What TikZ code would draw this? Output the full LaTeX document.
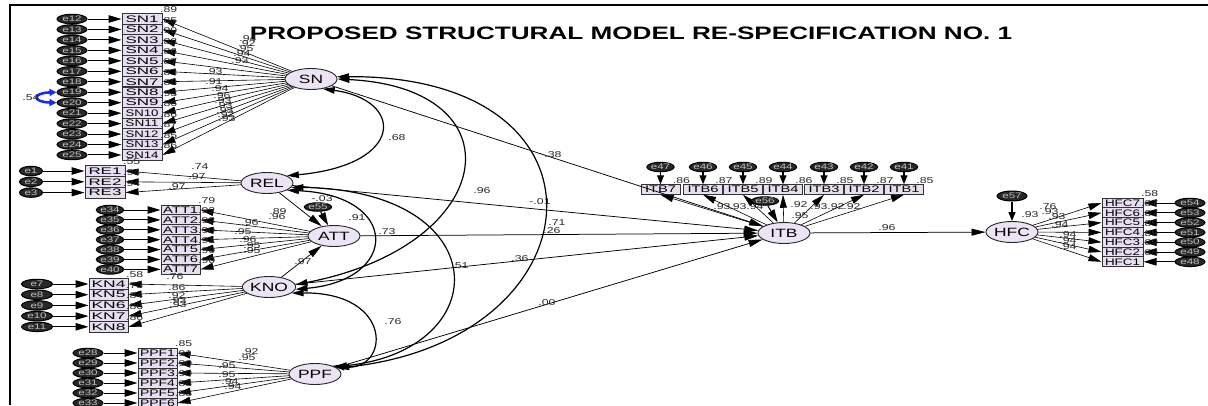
\documentclass[tikz,border=0pt]{standalone}
\usepackage{fontspec}
\usepackage{graphicx}
\setmainfont{Liberation Sans}[FakeStretch=1.45]
\usetikzlibrary{shapes.geometric, arrows.meta, positioning}

\definecolor{boxlilac}{RGB}{232,222,242}
\definecolor{latlilac}{RGB}{236,228,245}
\definecolor{errdark}{RGB}{40,40,40}
\definecolor{covblue}{RGB}{25,45,235}

% box labels are squeezed to the box width
\newcommand{\bx}[2][33pt]{\resizebox{#1}{6.6pt}{#2}}

\tikzset{
  ind/.style={rectangle, draw=black!80, line width=1pt, fill=boxlilac,
    minimum width=40pt, minimum height=10.4pt, inner sep=0pt},
  lat/.style={ellipse, draw=black!85, line width=0.9pt, fill=latlilac,
    minimum width=52pt, minimum height=21pt, inner sep=0pt,
    font=\fontsize{12}{13}\selectfont},
  err/.style={ellipse, draw=black, line width=1pt, fill=errdark,
    text=black!25, minimum width=28pt, minimum height=9.5pt, inner sep=0pt,
    font=\fontsize{8}{8}\selectfont},
  num/.style={font=\fontsize{8.5}{9}\selectfont, inner sep=0.4pt, text=black!85},
  errarr/.style={-{Triangle[length=13pt,width=7.5pt]}, line width=1pt},
  errarrv/.style={-{Triangle[length=9pt,width=7pt]}, line width=1.1pt},
  loadarr/.style={-{Triangle[length=13pt,width=7pt]}, line width=0.6pt},
  regarr/.style={-{Triangle[length=14pt,width=7pt]}, line width=0.75pt},
  cov/.style={{Triangle[length=12pt,width=6.5pt]}-{Triangle[length=12pt,width=6.5pt]}, line width=1.2pt},
}

\begin{document}
\begin{tikzpicture}[x=1pt, y=-1pt]
  \useasboundingbox (0,0) rectangle (1208,405);
  \draw[line width=2.4pt] (1208,5) -- (10,5) -- (10,405);

  \node[font=\bfseries\fontsize{18}{18}\selectfont] (title) at (631,33)
    {PROPOSED STRUCTURAL MODEL RE-SPECIFICATION NO. 1};

  % latent variables
  \node[lat] (SN)  at (311,79)  {SN};
  \node[lat] (REL) at (267,183) {REL};
  \node[lat] (ATT) at (334,236) {ATT};
  \node[lat] (KNO) at (269,287) {KNO};
  \node[lat] (PPF) at (315,374) {PPF};
  \node[lat] (ITB) at (784,233) {ITB};
  \node[lat] (HFC) at (1012,232) {HFC};

  % SN items
  \foreach \i/\er/\rs/\ld/\lx/\ly [count=\n from 0] in {
    1/12/.89/.94/248/39, 2/13/.85/.92/247/44, 3/14/.90/.95/245/49,
    4/15/.88/.94/242/54, 5/16/.86/.93/240/61, 6/17/.87/.93/214/72,
    7/18/.83/.91/214/82, 8/19/.88/.94/220/89, 9/20/.93/.96/222/96,
    10/21/.86/.93/223/101, 11/22/.86/.93/224/106, 12/23/.87/.93/225/111,
    13/24/.85/.92/226/115, 14/25/.86/.93/227/119}{
    \node[ind] (SN\i) at (142,{19+10.46*\n}) {\bx{SN\i}};
    \node[err, minimum width=30pt] (e\er) at (72,{19+10.46*\n}) {e\er};
    \node[num, anchor=south west] (rSN\i) at ([xshift=-3pt]SN\i.north east) {\rs};
    \node[num] (lSN\i) at (\lx,\ly) {\ld};
    \draw[errarr] (e\er) -- (SN\i);
    \draw[loadarr] (SN) -- (SN\i.east);
  }
  \draw[covblue, line width=2.6pt, {Triangle[length=7pt,width=7pt]}-{Triangle[length=7pt,width=7pt]}]
    (e19.west) .. controls (32,93) and (32,102) .. (e20.west);
  \node[num] (ve19) at (31,98) {.54};

  % REL items
  \foreach \i/\er/\rs/\ld/\lx/\ly [count=\n from 0] in {
    1/1/.55/.74/200/167, 2/2/.94/.97/197/177, 3/3/.94/.97/177/187}{
    \node[ind, minimum height=10.8pt] (RE\i) at (105,{171+10.8*\n}) {\bx{RE\i}};
    \node[err, minimum width=23pt] (e\er) at (31,{171+10.8*\n}) {e\er};
    \node[num, anchor=south west] (rRE\i) at ([xshift=-3pt]RE\i.north east) {\rs};
    \node[num] (lRE\i) at (\lx,\ly) {\ld};
    \draw[errarr] (e\er) -- (RE\i);
    \draw[loadarr] (REL) -- (RE\i.east);
  }

  % ATT items
  \foreach \i/\er/\rs/\ld/\lx/\ly [count=\n from 0] in {
    1/34/.79/.89/278/212, 2/35/.92/.96/277/217, 3/36/.92/.96/250/223,
    4/37/.90/.95/243/232, 5/38/.91/.96/248/240, 6/39/.90/.95/252/246,
    7/40/.90/.95/252/251}{
    \node[ind, minimum width=39pt, minimum height=9.9pt] (ATT\i) at (180.5,{210+9.9*\n}) {\bx[35pt]{ATT\i}};
    \node[err, minimum width=25pt] (e\er) at (110,{210+9.9*\n}) {e\er};
    \node[num, anchor=south west] (rATT\i) at ([xshift=-3pt]ATT\i.north east) {\rs};
    \node[num] (lATT\i) at (\lx,\ly) {\ld};
    \draw[errarr] (e\er) -- (ATT\i);
    \draw[loadarr] (ATT) -- (ATT\i.east);
  }

  % KNO items
  \foreach \i/\er/\rs/\ld/\lx/\ly [count=\n from 0] in {
    4/7/.58/.76/175/277, 5/8/.73/.86/177/288, 6/9/.84/.92/177/296,
    7/10/.86/.93/178/301, 8/11/.86/.93/178/305}{
    \node[ind, minimum width=39pt, minimum height=10.7pt] (KN\i) at (108.5,{284+10.7*\n}) {\bx[34pt]{KN\i}};
    \node[err, minimum width=31pt] (e\er) at (37,{284+10.7*\n}) {e\er};
    \node[num, anchor=south west] (rKN\i) at ([xshift=-3pt]KN\i.north east) {\rs};
    \node[num] (lKN\i) at (\lx,\ly) {\ld};
    \draw[errarr] (e\er) -- (KN\i);
    \draw[loadarr] (KNO) -- (KN\i.east);
  }

  % PPF items
  \foreach \i/\er/\rs/\ld/\lx/\ly [count=\n from 0] in {
    1/28/.85/.92/250/352, 2/29/.91/.95/247/358, 3/30/.90/.95/227/366,
    4/31/.90/.95/227/375, 5/32/.88/.94/230/382, 6/33/.88/.94/233/387}{
    \node[ind, minimum width=39pt, minimum height=10pt] (PPF\i) at (157.5,{353+10*\n}) {\bx[35pt]{PPF\i}};
    \node[err, minimum width=30pt] (e\er) at (88,{353+10*\n}) {e\er};
    \node[num, anchor=south west] (rPPF\i) at ([xshift=-3pt]PPF\i.north east) {\rs};
    \node[num] (lPPF\i) at (\lx,\ly) {\ld};
    \draw[errarr] (e\er) -- (PPF\i);
    \draw[loadarr] (PPF) -- (PPF\i.east);
  }

  % ITB items
  \foreach \i/\er/\xc/\rs/\ld/\lx/\ly in {
    7/47/660.5/.86/.93/722/207, 6/46/703/.87/.93/738/207, 5/45/743/.89/.94/755/207,
    4/44/783/.86/.92/799/205, 3/43/824/.85/.93/819/207, 2/42/864/.87/.92/836/207,
    1/41/904/.85/.92/852/207}{
    \node[ind, minimum width=39pt, minimum height=9.5pt] (ITB\i) at (\xc,189.5) {\bx[31pt]{ITB\i}};
    \node[err, minimum width=27pt] (e\er) at (\xc,167) {e\er};
    \node[num, anchor=south] (rITB\i) at ([xshift=1pt]ITB\i.north east) {\rs};
    \node[num] (lITB\i) at (\lx,\ly) {\ld};
    \draw[errarrv] (e\er) -- (ITB\i);
    \draw[loadarr] (ITB) -- (ITB\i.south);
  }
  \node[num] (rITB) at (800,216) {.95};

  % HFC items
  \foreach \i/\er/\rs/\ld/\lx/\ly [count=\n from 0] in {
    7/54/.58/.76/1048/207, 6/53/.87/.93/1050/212, 5/52/.87/.93/1057/217,
    4/51/.89/.94/1060/225, 3/50/.89/.94/1068/235, 2/49/.89/.94/1068/241,
    1/48/.88/.94/1068/247}{
    \node[ind, minimum width=41pt, minimum height=9.8pt] (HFC\i) at (1122.5,{203+9.8*\n}) {\bx[35pt]{HFC\i}};
    \node[err, minimum width=30pt] (e\er) at (1190,{203+9.8*\n}) {e\er};
    \node[num, anchor=south west] (rHFC\i) at ([xshift=-3pt]HFC\i.north east) {\rs};
    \node[num] (lHFC\i) at (\lx,\ly) {\ld};
    \draw[errarr] (e\er) -- (HFC\i);
    \draw[loadarr] (HFC) -- (HFC\i.west);
  }
  \node[num] (rHFC) at (1030,215) {.93};

  % disturbances
  \node[err, minimum width=26pt, minimum height=8.5pt] (e55) at (318,207) {e55};
  \node[err, minimum width=22pt, minimum height=8.5pt] (e56) at (765,201) {e56};
  \node[err, minimum width=30pt, minimum height=10pt] (e57) at (1012,196) {e57};
  \draw[errarr] (e55) -- (ATT);
  \draw[errarr] (e56) -- (ITB);
  \draw[errarrv] (e57) -- (HFC);

  % structural paths
  \draw[regarr] (REL) -- (ATT);
  \draw[regarr] (KNO) -- (ATT);
  \draw[regarr] (SN)  -- (ITB);
  \draw[regarr] (REL) -- (ITB);
  \draw[regarr] (ATT) -- (ITB);
  \draw[regarr] (KNO) -- (ITB);
  \draw[regarr] (PPF) -- (ITB);
  \draw[regarr] (ITB) -- (HFC);
  \node[num] (pRELATT) at (322,199) {-.03};
  \node[num] (rATT)    at (357,218) {.91};
  \node[num] (pKNOATT) at (303,262) {.97};
  \node[num] (pSN)     at (553,155) {.38};
  \node[num] (pREL)    at (540,202) {-.01};
  \node[num] (pATT)    at (387,232) {.73};
  \node[num] (pKNO)    at (520,259) {.36};
  \node[num] (pPPF)    at (547,303) {.00};
  \node[num] (pITB)    at (887,228) {.96};

  % covariances
  \draw[cov] (SN.-40) .. controls (405,100) and (405,165) .. (REL.20);
  \draw[cov] (SN.east) .. controls (520,88) and (500,245) .. (KNO.5);
  \draw[cov] (SN.5) .. controls (625,75) and (600,340) .. (PPF.15);
  \draw[cov] (REL.-10) .. controls (497,190) and (497,350) .. (PPF.20);
  \draw[cov] (REL.-20) .. controls (400,195) and (400,280) .. (KNO.-5);
  \draw[cov] (KNO.-15) .. controls (395,292) and (390,372) .. (PPF.25);
  \node[num] (cSNREL) at (397,138) {.68};
  \node[num] (cSNKNO) at (482,191) {.96};
  \node[num] (cSNPPF) at (557,223) {.71};
  \node[num] (cRELKNO) at (552,231) {.26};
  \node[num] (cRELPPF) at (460,266) {.51};
  \node[num] (cKNOPPF) at (393,322) {.76};
\end{tikzpicture}
\end{document}
